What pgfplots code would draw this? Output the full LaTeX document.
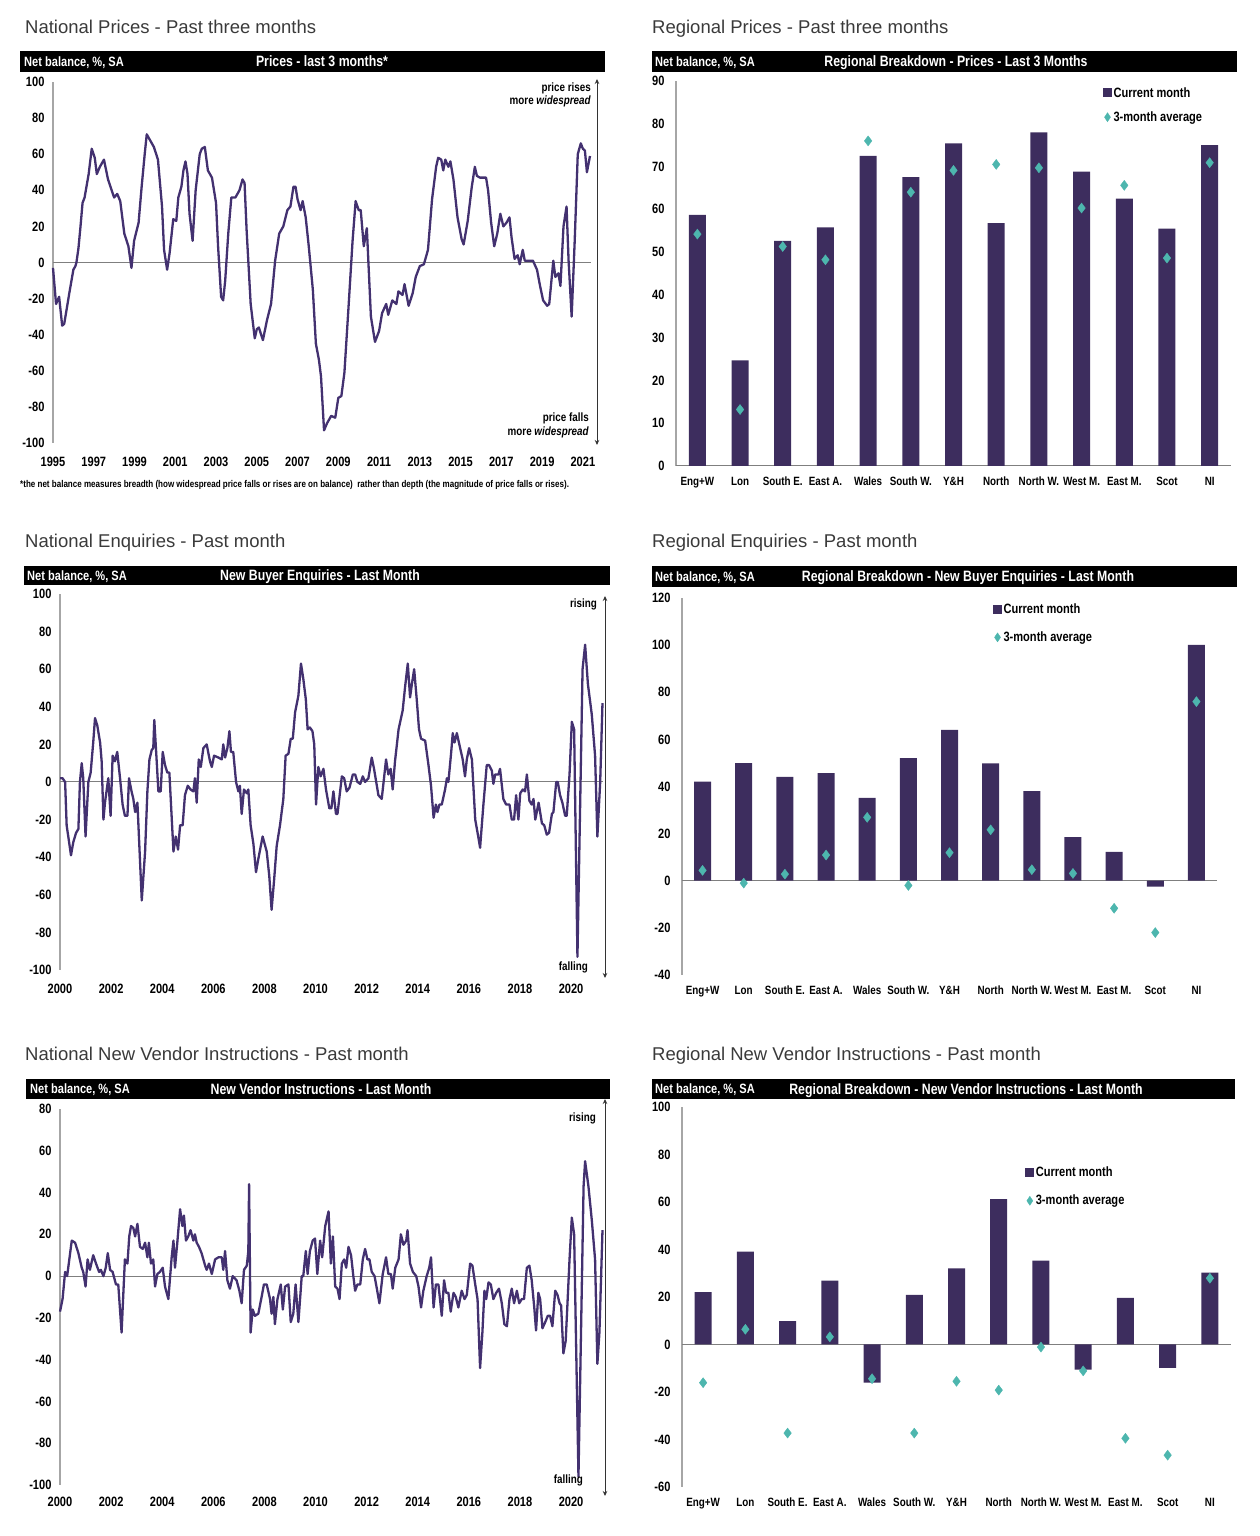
\documentclass[border=0pt]{standalone}
\usepackage{pgfplots}
\pgfplotsset{compat=1.18}
\usepackage{fontspec}
\setmainfont{Liberation Sans}
\newfontfamily\narrow[FakeStretch=0.82]{Liberation Sans}
\usetikzlibrary{arrows.meta}

\definecolor{rics}{HTML}{433170}
\definecolor{barc}{HTML}{3D2D5E}
\definecolor{avgc}{HTML}{4DB6AE}
\definecolor{zeroc}{HTML}{7F7F7F}
\definecolor{axisc}{HTML}{A6A6A6}
\definecolor{titlec}{HTML}{3A3A3A}

% fonts
\newcommand{\tf}{\fontsize{18.5}{22}\selectfont}
\newcommand{\hfl}{\narrow\bfseries\fontsize{13.5}{15}\selectfont}
\newcommand{\hft}{\narrow\bfseries\fontsize{15}{17}\selectfont}
\newcommand{\numf}{\narrow\bfseries\fontsize{13.5}{15}\selectfont}
\newcommand{\catf}{\narrow\bfseries\fontsize{12}{14}\selectfont}
\newcommand{\lgf}{\narrow\bfseries\fontsize{13.5}{15}\selectfont}
\newcommand{\af}{\narrow\bfseries\fontsize{12}{14}\selectfont}

\pgfplotsset{
  panel/.style={
    scale only axis, anchor=south west, clip=false,
    axis x line*=bottom, axis y line*=left,
    x axis line style={draw=none},
    y axis line style={draw=axisc, line width=1.3pt},
    major tick length=0pt,
    tick label style={font=\numf},
    /pgf/number format/assume math mode=true,
    /pgf/number format/1000 sep={},
    yticklabel style={xshift=-5pt},
    xticklabel style={yshift=-10.5pt},
  },
  series/.style={color=rics, line width=2.3pt, line join=round, mark=none},
  regional/.style={
    panel, xmin=-0.5, xmax=12.5, xtick={0,...,12},
    xticklabels={Eng+W, Lon, South E., East A., Wales, South W., Y\&H, North, North W., West M., East M., Scot, NI},
    xticklabel style={font=\catf, text height=8.8pt, text depth=2.5pt, yshift=3pt},
    yticklabel style={xshift=-3pt},
    legend cell align=left,
    legend style={draw=none, fill=none, font=\lgf, anchor=north west,
      inner sep=0pt, nodes={inner sep=1.5pt},
      /tikz/every even column/.append style={column sep=0pt}},
  },
  cur/.style={ybar, bar width=17pt, fill=barc, draw=none,
    legend image code/.code={\fill[barc] (0pt,-4.5pt) rectangle (9pt,4.5pt);}},
  avg/.style={only marks, mark=diamond*, mark size=5pt, color=avgc,
    legend image code/.code={\fill[avgc] (4.5pt,4.5pt) -- (7.5pt,0pt) -- (4.5pt,-4.5pt) -- (1.5pt,0pt) -- cycle;}},
}

\begin{document}
\begin{tikzpicture}
\path[use as bounding box] (0,0) rectangle (1260pt,1536pt);

% ---------------- National prices
\begin{axis}[panel, at={(53pt,1093pt)}, width=538pt, height=361pt,
  xmin=1995, xmax=2021.4, ymin=-100, ymax=100,
  xtick={1995,1997,...,2021}, ytick={-100,-80,...,100}]
\draw[zeroc, line width=1pt] (axis cs:1995,0) -- (axis cs:2021.4,0);
\addplot[series] coordinates {
(1995.00,-3) (1995.15,-23) (1995.30,-19) (1995.45,-35) (1995.55,-34) (1995.80,-17)
(1996.00,-4) (1996.10,-2) (1996.15,0) (1996.25,8) (1996.35,20) (1996.45,33) (1996.55,36)
(1996.75,49) (1996.90,63) (1997.05,58) (1997.15,49) (1997.30,53) (1997.50,57) (1997.70,46)
(1998.00,36) (1998.15,38) (1998.30,34) (1998.50,16) (1998.70,9) (1998.85,-3) (1998.98,12)
(1999.20,22) (1999.35,42) (1999.50,60) (1999.60,71) (1999.75,68) (1999.95,64) (2000.15,57)
(2000.35,31) (2000.45,7) (2000.60,-4) (2000.72,5) (2000.90,24) (2001.05,23) (2001.15,36)
(2001.30,42) (2001.40,51) (2001.50,56) (2001.60,49) (2001.70,27) (2001.85,12) (2002.00,40)
(2002.20,60) (2002.30,63) (2002.45,64) (2002.60,51) (2002.80,47) (2003.00,33) (2003.10,9)
(2003.25,-19) (2003.35,-21) (2003.45,-10) (2003.60,16) (2003.75,36) (2003.95,36) (2004.15,40)
(2004.30,46) (2004.40,44) (2004.50,18) (2004.70,-23) (2004.90,-42) (2005.00,-37) (2005.10,-36)
(2005.30,-43) (2005.50,-32) (2005.70,-23) (2005.90,1) (2006.10,16) (2006.30,20) (2006.50,29)
(2006.65,31) (2006.80,42) (2006.90,42) (2007.00,35) (2007.15,29) (2007.25,34) (2007.40,25)
(2007.55,9) (2007.75,-15) (2007.90,-45) (2008.05,-54) (2008.15,-63) (2008.30,-93) (2008.45,-89)
(2008.65,-85) (2008.85,-86) (2009.00,-75) (2009.15,-74) (2009.30,-61) (2009.50,-25) (2009.70,12)
(2009.85,34) (2010.00,29) (2010.10,29) (2010.25,9) (2010.40,19) (2010.60,-30) (2010.80,-44)
(2011.00,-38) (2011.15,-28) (2011.35,-23) (2011.45,-29) (2011.65,-21) (2011.85,-23) (2011.95,-16)
(2012.15,-18) (2012.25,-12) (2012.45,-24) (2012.65,-17) (2012.80,-8) (2013.00,-2) (2013.20,-1)
(2013.40,7) (2013.60,35) (2013.80,53) (2013.90,58) (2014.05,57) (2014.15,51) (2014.25,57)
(2014.40,53) (2014.50,56) (2014.65,46) (2014.85,25) (2015.05,13) (2015.15,10) (2015.35,23)
(2015.55,42) (2015.70,53) (2015.80,48) (2015.95,47) (2016.10,47) (2016.25,47) (2016.35,40)
(2016.50,22) (2016.65,9) (2016.80,16) (2016.95,27) (2017.10,20) (2017.25,22) (2017.40,25)
(2017.50,14) (2017.65,2) (2017.80,4) (2017.90,-1) (2018.05,7) (2018.15,1) (2018.35,1)
(2018.55,1) (2018.75,-4) (2018.90,-13) (2019.05,-21) (2019.25,-24) (2019.35,-23) (2019.55,1)
(2019.65,-8) (2019.80,-6) (2019.90,-13) (2020.05,20) (2020.20,31) (2020.30,1) (2020.45,-30)
(2020.60,12) (2020.75,60) (2020.90,66) (2021.00,63) (2021.10,62) (2021.20,50) (2021.35,59)
};
\end{axis}

% ---------------- Regional prices
\begin{axis}[regional, at={(676pt,1070pt)}, width=555pt, height=385pt,
  ymin=0, ymax=90, ytick={0,10,...,90},
  legend style={at={(0.769,0.988)}, row sep=10pt}]
\draw[zeroc, line width=1pt] (axis cs:-0.5,0) -- (axis cs:12.5,0);
\addplot[cur] coordinates {(0,58.7) (1,24.7) (2,52.6) (3,55.8) (4,72.5) (5,67.5) (6,75.4)
  (7,56.8) (8,78.0) (9,68.8) (10,62.5) (11,55.5) (12,75.0)};
\addlegendentry{Current month}
\addplot[avg] coordinates {(0,54.2) (1,13.2) (2,51.3) (3,48.2) (4,76.0) (5,64.0) (6,69.1)
  (7,70.5) (8,69.7) (9,60.3) (10,65.6) (11,48.6) (12,70.9)};
\addlegendentry{3-month average}
\end{axis}

% ---------------- National enquiries
\begin{axis}[panel, at={(60pt,566pt)}, width=543pt, height=376pt,
  xmin=2000, xmax=2021.25, ymin=-100, ymax=100,
  xtick={2000,2002,...,2020}, ytick={-100,-80,...,100}]
\draw[zeroc, line width=1pt] (axis cs:2000,0) -- (axis cs:2021.25,0);
\addplot[series] coordinates {
(2000.00,2) (2000.10,2) (2000.20,0) (2000.26,-23) (2000.43,-39) (2000.52,-32) (2000.63,-27)
(2000.72,-25) (2000.78,0) (2000.85,10) (2000.91,2) (2001.00,-29) (2001.11,0) (2001.20,5)
(2001.30,21) (2001.37,34) (2001.46,30) (2001.57,21) (2001.63,11) (2001.70,-20) (2001.76,-11)
(2001.89,2) (2001.98,-18) (2002.06,14) (2002.15,11) (2002.24,16) (2002.35,2) (2002.45,-12)
(2002.54,-18) (2002.64,-18) (2002.70,2) (2002.80,-5) (2002.87,-9) (2002.94,-16) (2003.03,-11)
(2003.20,-63) (2003.33,-37) (2003.42,-5) (2003.50,12) (2003.59,17) (2003.65,18) (2003.69,33)
(2003.78,12) (2003.85,-5) (2003.94,-5) (2004.02,16) (2004.11,9) (2004.20,5) (2004.28,5)
(2004.44,-37) (2004.53,-29) (2004.62,-36) (2004.70,-23) (2004.80,-23) (2004.89,-7) (2005.00,-2)
(2005.11,-4) (2005.22,-5) (2005.28,2) (2005.35,-11) (2005.43,12) (2005.51,8) (2005.61,18)
(2005.74,20) (2005.87,11) (2005.94,8) (2006.03,14) (2006.20,13) (2006.33,12) (2006.39,20)
(2006.46,13) (2006.55,18) (2006.63,27) (2006.69,16) (2006.78,16) (2006.89,0) (2006.98,-5)
(2007.04,-2) (2007.11,-17) (2007.20,-4) (2007.31,-6) (2007.37,-4) (2007.46,-23) (2007.57,-33)
(2007.67,-48) (2007.76,-41) (2007.93,-29) (2008.09,-37) (2008.19,-50) (2008.28,-68) (2008.38,-52)
(2008.48,-34) (2008.61,-23) (2008.74,-9) (2008.83,14) (2008.94,15) (2009.03,23) (2009.11,23)
(2009.20,37) (2009.33,46) (2009.43,63) (2009.52,55) (2009.62,44) (2009.69,28) (2009.78,29)
(2009.88,27) (2009.95,20) (2010.02,-12) (2010.11,8) (2010.20,3) (2010.31,7) (2010.41,-4)
(2010.54,-14) (2010.62,-14) (2010.70,-5) (2010.80,-17) (2010.86,-17) (2011.03,3) (2011.12,2)
(2011.22,-5) (2011.33,-3) (2011.46,4) (2011.55,4) (2011.64,0) (2011.75,-1) (2011.85,3)
(2011.94,0) (2012.07,2) (2012.20,13) (2012.29,7) (2012.40,-2) (2012.46,-7) (2012.59,-9)
(2012.68,2) (2012.76,12) (2012.85,4) (2012.94,7) (2013.02,-4) (2013.11,11) (2013.25,28)
(2013.41,38) (2013.50,50) (2013.61,63) (2013.70,45) (2013.77,52) (2013.86,60) (2013.96,44)
(2014.05,28) (2014.13,23) (2014.29,22) (2014.42,9) (2014.52,-2) (2014.62,-19) (2014.71,-12)
(2014.77,-16) (2014.85,-12) (2014.94,-12) (2015.07,-4) (2015.14,2) (2015.20,0) (2015.31,16)
(2015.37,26) (2015.44,21) (2015.53,26) (2015.66,18) (2015.76,12) (2015.85,3) (2015.92,12)
(2016.01,18) (2016.12,12) (2016.25,-20) (2016.38,-30) (2016.44,-35) (2016.57,-12) (2016.70,9)
(2016.79,9) (2016.90,6) (2016.96,-1) (2017.03,4) (2017.16,4) (2017.22,7) (2017.35,-9)
(2017.46,-12) (2017.59,-12) (2017.68,-20) (2017.77,-20) (2017.85,-7) (2017.94,-20) (2018.01,-6)
(2018.11,-4) (2018.20,-5) (2018.27,4) (2018.37,-10) (2018.46,-12) (2018.53,-9) (2018.60,-20)
(2018.73,-11) (2018.86,-22) (2018.95,-23) (2019.05,-28) (2019.14,-27) (2019.25,-17) (2019.31,-16)
(2019.42,0) (2019.48,0) (2019.57,-7) (2019.66,-11) (2019.77,-18) (2019.83,-18) (2019.94,4)
(2020.03,32) (2020.12,28) (2020.25,-93) (2020.45,60) (2020.55,73) (2020.66,52) (2020.81,36)
(2020.94,14) (2021.03,-29) (2021.14,0) (2021.23,42)
};
\end{axis}

% ---------------- Regional enquiries
\begin{axis}[regional, at={(682pt,561pt)}, width=535pt, height=377pt,
  ymin=-40, ymax=120, ytick={-40,-20,...,120},
  legend style={at={(0.581,0.99)}, row sep=14pt}]
\draw[zeroc, line width=1pt] (axis cs:-0.5,0) -- (axis cs:12.5,0);
\addplot[cur] coordinates {(0,42.1) (1,49.9) (2,44.1) (3,45.7) (4,35.2) (5,52.0) (6,64.0)
  (7,49.8) (8,38.0) (9,18.5) (10,12.2) (11,-2.5) (12,100.1)};
\addlegendentry{Current month}
\addplot[avg] coordinates {(0,4.4) (1,-1.0) (2,2.8) (3,10.9) (4,26.9) (5,-2.0) (6,11.9)
  (7,21.6) (8,4.7) (9,3.1) (10,-11.7) (11,-22.0) (12,76.0)};
\addlegendentry{3-month average}
\end{axis}

% ---------------- National new vendor instructions
\begin{axis}[panel, at={(60pt,51pt)}, width=543pt, height=376pt,
  xmin=2000, xmax=2021.25, ymin=-100, ymax=80,
  xtick={2000,2002,...,2020}, ytick={-100,-80,...,80},
  xticklabel style={yshift=2pt}]
\draw[zeroc, line width=1pt] (axis cs:2000,0) -- (axis cs:2021.25,0);
\addplot[series] coordinates {
(2000.00,-17) (2000.10,-11) (2000.20,2) (2000.28,0) (2000.46,17) (2000.59,16) (2000.72,11)
(2000.85,4) (2000.91,2) (2001.00,-5) (2001.08,8) (2001.17,3) (2001.30,10) (2001.41,6)
(2001.53,2) (2001.60,3) (2001.70,0) (2001.79,4) (2001.87,11) (2001.96,3) (2002.06,2)
(2002.19,-4) (2002.28,-4) (2002.41,-27) (2002.48,-8) (2002.54,8) (2002.64,6) (2002.71,19)
(2002.78,24) (2002.87,23) (2002.94,19) (2003.03,25) (2003.13,14) (2003.24,13) (2003.33,16)
(2003.42,9) (2003.48,16) (2003.56,6) (2003.65,8) (2003.72,-5) (2003.81,1) (2003.91,2)
(2004.02,4) (2004.11,-5) (2004.24,-11) (2004.37,9) (2004.44,17) (2004.50,4) (2004.59,16)
(2004.70,32) (2004.79,24) (2004.85,29) (2004.93,17) (2005.02,19) (2005.11,22) (2005.22,17)
(2005.28,20) (2005.35,16) (2005.44,14) (2005.54,11) (2005.68,5) (2005.74,3) (2005.83,6)
(2005.94,1) (2006.07,8) (2006.20,9) (2006.33,9) (2006.39,3) (2006.46,12) (2006.55,-2)
(2006.65,-6) (2006.76,0) (2006.91,-2) (2007.02,-7) (2007.11,-13) (2007.20,3) (2007.31,5)
(2007.37,12) (2007.40,44) (2007.46,-27) (2007.54,-16) (2007.63,-19) (2007.76,-18) (2007.89,-10)
(2007.98,-4) (2008.09,-4) (2008.22,-11) (2008.28,-18) (2008.35,-10) (2008.41,-23) (2008.51,-11)
(2008.64,-4) (2008.72,-16) (2008.81,-5) (2008.94,-4) (2009.03,-22) (2009.13,-18) (2009.22,-4)
(2009.33,-22) (2009.46,0) (2009.52,0) (2009.62,12) (2009.69,1) (2009.78,12) (2009.89,17)
(2009.98,18) (2010.07,1) (2010.18,17) (2010.26,9) (2010.38,24) (2010.51,31) (2010.60,6)
(2010.68,19) (2010.77,-5) (2010.86,-6) (2010.94,-11) (2011.03,6) (2011.12,8) (2011.20,4)
(2011.29,14) (2011.39,10) (2011.48,0) (2011.55,-7) (2011.64,-4) (2011.75,-4) (2011.85,8)
(2011.94,13) (2012.03,8) (2012.11,8) (2012.20,2) (2012.31,0) (2012.40,-6) (2012.50,-13)
(2012.63,1) (2012.76,9) (2012.85,1) (2012.95,1) (2013.02,-6) (2013.12,4) (2013.25,8)
(2013.34,20) (2013.44,15) (2013.55,17) (2013.60,22) (2013.70,6) (2013.81,2) (2013.94,0)
(2014.03,-5) (2014.13,-15) (2014.22,-7) (2014.35,0) (2014.45,4) (2014.52,9) (2014.62,-15)
(2014.71,-4) (2014.81,-4) (2014.94,-19) (2015.03,-2) (2015.11,-8) (2015.20,-8) (2015.29,-17)
(2015.40,-8) (2015.49,-10) (2015.59,-15) (2015.72,-7) (2015.83,-11) (2015.92,-9) (2016.05,6)
(2016.14,5) (2016.25,-4) (2016.34,-11) (2016.44,-44) (2016.53,-27) (2016.61,-7) (2016.68,-11)
(2016.77,-3) (2016.86,-4) (2016.96,-11) (2017.07,-8) (2017.18,-6) (2017.29,-13) (2017.39,-23)
(2017.49,-24) (2017.59,-11) (2017.68,-6) (2017.77,-13) (2017.88,-7) (2017.97,-13) (2018.07,-11)
(2018.16,-11) (2018.27,4) (2018.37,5) (2018.46,-2) (2018.56,-15) (2018.63,-26) (2018.72,-8)
(2018.79,-11) (2018.88,-25) (2018.99,-22) (2019.09,-19) (2019.18,-19) (2019.27,-24) (2019.38,-7)
(2019.47,-9) (2019.55,-13) (2019.61,-14) (2019.70,-37) (2019.79,-31) (2019.86,-13) (2019.94,8)
(2020.03,28) (2020.12,20) (2020.29,-96) (2020.49,43) (2020.55,55) (2020.68,43) (2020.81,27)
(2020.94,8) (2021.03,-42) (2021.11,-27) (2021.23,22)
};
\end{axis}

% ---------------- Regional new vendor instructions
\begin{axis}[regional, at={(682pt,49pt)}, width=549pt, height=380pt,
  ymin=-60, ymax=100, ytick={-60,-40,...,100},
  legend style={at={(0.625,0.847)}, row sep=14pt}]
\draw[zeroc, line width=1pt] (axis cs:-0.5,0) -- (axis cs:12.5,0);
\addplot[cur] coordinates {(0,22.0) (1,39.1) (2,9.8) (3,26.9) (4,-16.1) (5,20.9) (6,32.1)
  (7,61.2) (8,35.3) (9,-10.6) (10,19.6) (11,-9.8) (12,30.3)};
\addlegendentry{Current month}
\addplot[avg] coordinates {(0,-16.1) (1,6.4) (2,-37.3) (3,3.2) (4,-14.4) (5,-37.3) (6,-15.5)
  (7,-19.2) (8,-1.1) (9,-11.1) (10,-39.5) (11,-46.6) (12,27.9)};
\addlegendentry{3-month average}
\end{axis}

% ---------------- titles, header bars and notes (y measured downwards)
\begin{scope}[x=1pt, y=-1pt, yshift=1536pt]
\tikzset{ttl/.style={anchor=base west, inner sep=0pt, font=\tf, text=titlec},
  hl/.style={anchor=base west, inner sep=0pt, font=\hfl, text=white},
  ht/.style={anchor=base, inner sep=0pt, font=\hft, text=white},
  note/.style={anchor=east, inner sep=0pt, font=\af, align=right},
  arr/.style={{Stealth[length=5pt,width=4.5pt]}-{Stealth[length=5pt,width=4.5pt]}, line width=1pt, black!80}}

\node[ttl] at (25,33.6) {National Prices - Past three months};
\node[ttl] at (652,33.6) {Regional Prices - Past three months};
\node[ttl] at (25,547.6) {National Enquiries - Past month};
\node[ttl] at (652,547.6) {Regional Enquiries - Past month};
\node[ttl] at (25,1060.6) {National New Vendor Instructions - Past month};
\node[ttl] at (652,1060.6) {Regional New Vendor Instructions - Past month};

\fill[black] (20,51) rectangle (605,72);
\node[hl] at (24,66.4) {Net balance, \%, SA};
\node[ht] at (322,66.9) {Prices - last 3 months*};
\fill[black] (652,51) rectangle (1237,72);
\node[hl] at (655,66.4) {Net balance, \%, SA};
\node[ht] at (956,66.9) {Regional Breakdown - Prices - Last 3 Months};
\fill[black] (24,566) rectangle (610,585);
\node[hl] at (27,580.4) {Net balance, \%, SA};
\node[ht] at (320,580.9) {New Buyer Enquiries - Last Month};
\fill[black] (652,566) rectangle (1237,587);
\node[hl] at (655,581.4) {Net balance, \%, SA};
\node[ht] at (968,581.9) {Regional Breakdown - New Buyer Enquiries - Last Month};
\fill[black] (26,1079) rectangle (610,1099);
\node[hl] at (30,1093.9) {Net balance, \%, SA};
\node[ht] at (321,1094.4) {New Vendor Instructions - Last Month};
\fill[black] (652,1079) rectangle (1235,1099);
\node[hl] at (655,1093.9) {Net balance, \%, SA};
\node[ht] at (966,1094.4) {Regional Breakdown - New Vendor Instructions - Last Month};

\draw[arr] (597,445) -- (597,79);
\node[note] at (591,88) {price rises};
\node[note] at (591,101) {more \textit{widespread}};
\node[note] at (589,418) {price falls};
\node[note] at (589,432) {more \textit{widespread}};
\node[anchor=west, inner sep=0pt, font=\narrow\bfseries\fontsize{9.8}{11}\selectfont] at (20,485)
  {*the net balance measures breadth (how widespread price falls or rises are on balance)\ \ rather than depth (the magnitude of price falls or rises).};

\draw[arr] (605,978) -- (605,596);
\node[note] at (597,604) {rising};
\node[note] at (588,967) {falling};

\draw[arr] (605,1496) -- (605,1099);
\node[note] at (596,1118) {rising};
\node[note] at (583,1480) {falling};
\end{scope}
\end{tikzpicture}
\end{document}
